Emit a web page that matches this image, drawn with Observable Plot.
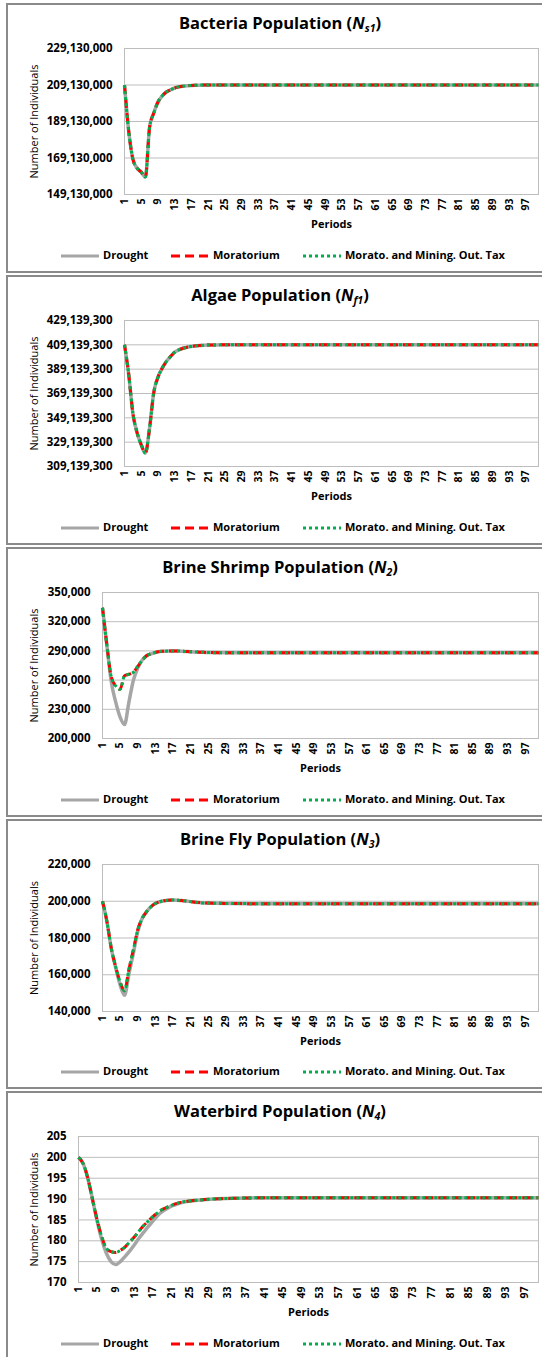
<!DOCTYPE html>
<html><head><meta charset="utf-8">
<script src="https://cdn.jsdelivr.net/npm/d3@7"></script>
<script src="https://cdn.jsdelivr.net/npm/@observablehq/plot@0.6"></script>
<style>
body{margin:0;width:542px;height:1357px;overflow:hidden;position:relative;background:#fff;font-family:"Open Sans",sans-serif;color:#000;}
.panel{position:absolute;left:6px;width:548px;height:270px;border:2px solid #8a8a8a;box-sizing:border-box;}
.title{position:absolute;left:6px;width:548px;text-align:center;font-weight:bold;font-size:16.5px;line-height:18px;}
.title sub{font-size:10.5px;vertical-align:-3px;line-height:0;}
.leg{position:absolute;font-weight:bold;font-size:11px;line-height:12px;white-space:nowrap;}
.sw{position:absolute;}
.chart{position:absolute;left:0;}
</style></head><body>
<script>
const periods = [1,2,3,4,5,6,7,8,9,10,11,12,13,14,15,16,17,18,19,20,21,22,23,24,25,30,35,40,45,50,55,60,65,70,75,80,85,90,95,100];
const xTicks = [1,5,9,13,17,21,25,29,33,37,41,45,49,53,57,61,65,69,73,77,81,85,89,93,97];
const seriesNames = ["Drought","Moratorium","Morato. and Mining. Out. Tax"];

// Bacteria (N_s1)
const bacteriaTicks = [149130000,169130000,189130000,209130000,229130000];
const bacteriaDrought = [209130000,184000000,168600000,163600000,161400000,158700000,186000000,193800000,199800000,203100000,205300000,206500000,207500000,208100000,208500000,208750000,208900000,209000000,209060000,209090000,209110000,209120000,209125000,209128000,209130000,209130000,209130000,209130000,209130000,209130000,209130000,209130000,209130000,209130000,209130000,209130000,209130000,209130000,209130000,209130000];
const bacteriaMoratorium = [209130000,184000000,168600000,163600000,161400000,158700000,186000000,193800000,199800000,203100000,205300000,206500000,207500000,208100000,208500000,208750000,208900000,209000000,209060000,209090000,209110000,209120000,209125000,209128000,209130000,209130000,209130000,209130000,209130000,209130000,209130000,209130000,209130000,209130000,209130000,209130000,209130000,209130000,209130000,209130000];
const bacteriaTax = bacteriaMoratorium;

// Algae (N_f1)
const algaeTicks = [309139300,329139300,349139300,369139300,389139300,409139300,429139300];
const algaeDrought = [409139300,385000000,353000000,337000000,327000000,320200000,340800000,370000000,382500000,389900000,395400000,399500000,403100000,405000000,406300000,407200000,407800000,408300000,408600000,408800000,408950000,409030000,409080000,409110000,409130000,409139300,409139300,409139300,409139300,409139300,409139300,409139300,409139300,409139300,409139300,409139300,409139300,409139300,409139300,409139300];
const algaeMoratorium = [409139300,385000000,353000000,337000000,327000000,320200000,340800000,370000000,382500000,389900000,395400000,399500000,403100000,405000000,406300000,407200000,407800000,408300000,408600000,408800000,408950000,409030000,409080000,409110000,409130000,409139300,409139300,409139300,409139300,409139300,409139300,409139300,409139300,409139300,409139300,409139300,409139300,409139300,409139300,409139300];
const algaeTax = algaeMoratorium;

// Brine shrimp (N_2)
const shrimpTicks = [200000,230000,260000,290000,320000,350000];
const shrimpDrought = [334300,295600,258000,237400,222000,214400,237400,259600,272300,280300,285000,287000,288400,289400,289700,289900,290000,289900,289700,289400,289100,288900,288700,288500,288300,288100,288050,288000,288000,288000,288000,288000,288000,288000,288000,288000,288000,288000,288000,288000];
const shrimpMoratorium = [334300,295600,263000,254000,250500,264500,266000,268000,274000,280300,285000,287000,288400,289400,289700,289900,290000,289900,289700,289400,289100,288900,288700,288500,288300,288100,288050,288000,288000,288000,288000,288000,288000,288000,288000,288000,288000,288000,288000,288000];
const shrimpTax = shrimpMoratorium;

// Brine fly (N_3)
const flyTicks = [140000,160000,180000,200000,220000];
const flyDrought = [200000,189000,174300,163800,154500,148800,160500,171500,183500,190600,194300,197000,198800,199700,200300,200600,200700,200600,200400,200100,199800,199500,199300,199100,199000,198800,198700,198700,198700,198700,198700,198700,198700,198700,198700,198700,198700,198700,198700,198700];
const flyMoratorium = [200000,189000,174300,164300,156000,151300,163000,173500,184500,190600,194300,197000,198800,199700,200300,200600,200700,200600,200400,200100,199800,199500,199300,199100,199000,198800,198700,198700,198700,198700,198700,198700,198700,198700,198700,198700,198700,198700,198700,198700];
const flyTax = flyMoratorium;

// Waterbird (N_4)
const birdTicks = [170,175,180,185,190,195,200,205];
const birdDrought = [200,198.5,195,190,184.8,180.3,177,175,174.3,175,176.2,177.5,179,180.6,182,183.4,184.7,186,187,187.7,188.3,188.7,189.1,189.35,189.5,190,190.2,190.3,190.3,190.3,190.3,190.3,190.3,190.3,190.3,190.3,190.3,190.3,190.3,190.3];
const birdMoratorium = [200,198.5,195,190,185,181,178.2,177.4,177.2,177.7,178.5,179.7,180.9,182.3,183.6,184.7,185.8,186.7,187.5,188,188.5,188.9,189.2,189.4,189.55,190,190.2,190.3,190.3,190.3,190.3,190.3,190.3,190.3,190.3,190.3,190.3,190.3,190.3,190.3];
const birdTax = birdMoratorium;

const panels = [
  {name:"Bacteria Population", sub:"s1", top:3, left:124, pTop:48, pBot:194, ticks:bacteriaTicks, series:[bacteriaDrought,bacteriaMoratorium,bacteriaTax]},
  {name:"Algae Population", sub:"f1", top:275, left:124, pTop:320, pBot:466, ticks:algaeTicks, series:[algaeDrought,algaeMoratorium,algaeTax]},
  {name:"Brine Shrimp Population", sub:"2", top:547, left:102, pTop:592, pBot:738, ticks:shrimpTicks, series:[shrimpDrought,shrimpMoratorium,shrimpTax]},
  {name:"Brine Fly Population", sub:"3", top:819, left:102, pTop:864, pBot:1011, ticks:flyTicks, series:[flyDrought,flyMoratorium,flyTax]},
  {name:"Waterbird Population", sub:"4", top:1091, left:78, pTop:1136, pBot:1282, ticks:birdTicks, series:[birdDrought,birdMoratorium,birdTax]}
];

const styles = [
  {stroke:"#a6a6a6", strokeWidth:3.5, strokeDasharray:null},
  {stroke:"#ff0000", strokeWidth:3, strokeDasharray:"9,5"},
  {stroke:"#00b050", strokeWidth:3, strokeDasharray:"3,3"}
];

const W = 542, plotRight = 538;
const fmt = d3.format(",");
const FONT = "'Open Sans', sans-serif";

function el(tag, cls, css, html){
  const e = document.createElement(tag);
  if (cls) e.className = cls;
  Object.assign(e.style, css || {});
  if (html != null) e.innerHTML = html;
  document.body.appendChild(e);
  return e;
}

for (const P of panels) {
  el("div","panel",{top:P.top+"px"});
  el("div","title",{top:(P.top+11)+"px"}, `${P.name} (<i>N<sub>${P.sub}</sub></i>)`);

  const mt = 6, mb = 62;
  const data = [];
  P.series.forEach((arr, k) => periods.forEach((p, i) => data.push({s: k, p, v: arr[i]})));
  const yDom = [P.ticks[0], P.ticks[P.ticks.length-1]];
  const marks = [
    Plot.gridY(P.ticks, {stroke:"#bdbdbd", strokeOpacity:1, strokeWidth:1}),
    Plot.frame({stroke:"#bdbdbd", strokeWidth:1}),
    Plot.axisY(P.ticks, {tickSize:0, tickPadding:12, tickFormat:fmt, fontWeight:"bold", fontSize:11.5, label:null}),
    Plot.axisX(xTicks, {tickSize:0, tickPadding:4, tickRotate:-90, fontWeight:"bold", fontSize:10.5, label:null}),
    Plot.text(["Periods"], {frameAnchor:"bottom", dy:30, fontWeight:"bold", fontSize:11, lineAnchor:"middle", textAnchor:"middle"}),
    Plot.text(["Number of Individuals"], {frameAnchor:"left", rotate:-90, dx:34-P.left, fontSize:11, lineAnchor:"middle", textAnchor:"middle"})
  ];
  styles.forEach((st, k) => {
    marks.push(Plot.line(data.filter(d => d.s === k), {x:"p", y:"v", curve:"monotone-x", stroke:st.stroke, strokeWidth:st.strokeWidth, strokeDasharray:st.strokeDasharray, strokeLinecap:"butt", strokeLinejoin:"round"}));
  });
  const svg = Plot.plot({
    width: W, height: (P.pBot-P.pTop)+mt+mb,
    marginLeft: P.left, marginRight: W-plotRight, marginTop: mt, marginBottom: mb,
    style: {fontFamily:FONT, color:"#000", background:"transparent", overflow:"visible"},
    x: {type:"linear", domain:[1,100]},
    y: {domain:yDom},
    marks
  });
  svg.classList.add("chart");
  svg.style.position = "absolute";
  svg.style.left = "0px";
  svg.style.top = (P.pTop-mt)+"px";
  document.body.appendChild(svg);

  // legend
  const ly = P.top + 253;
  const items = [{x0:61, tx:103},{x0:171, tx:213},{x0:303, tx:345}];
  items.forEach((it, k) => {
    const st = styles[k];
    const ns = "http://www.w3.org/2000/svg";
    const s = document.createElementNS(ns,"svg");
    s.setAttribute("width", 40); s.setAttribute("height", 8);
    s.setAttribute("class","sw");
    s.style.left = it.x0+"px"; s.style.top = (ly-4)+"px";
    const ln = document.createElementNS(ns,"line");
    ln.setAttribute("x1",0); ln.setAttribute("x2",38); ln.setAttribute("y1",4); ln.setAttribute("y2",4);
    ln.setAttribute("stroke", st.stroke); ln.setAttribute("stroke-width", 3);
    if (st.strokeDasharray) ln.setAttribute("stroke-dasharray", st.strokeDasharray);
    s.appendChild(ln);
    document.body.appendChild(s);
    el("div","leg",{left:it.tx+"px", top:(ly-7)+"px"}, seriesNames[k]);
  });
}
</script>
</body></html>
